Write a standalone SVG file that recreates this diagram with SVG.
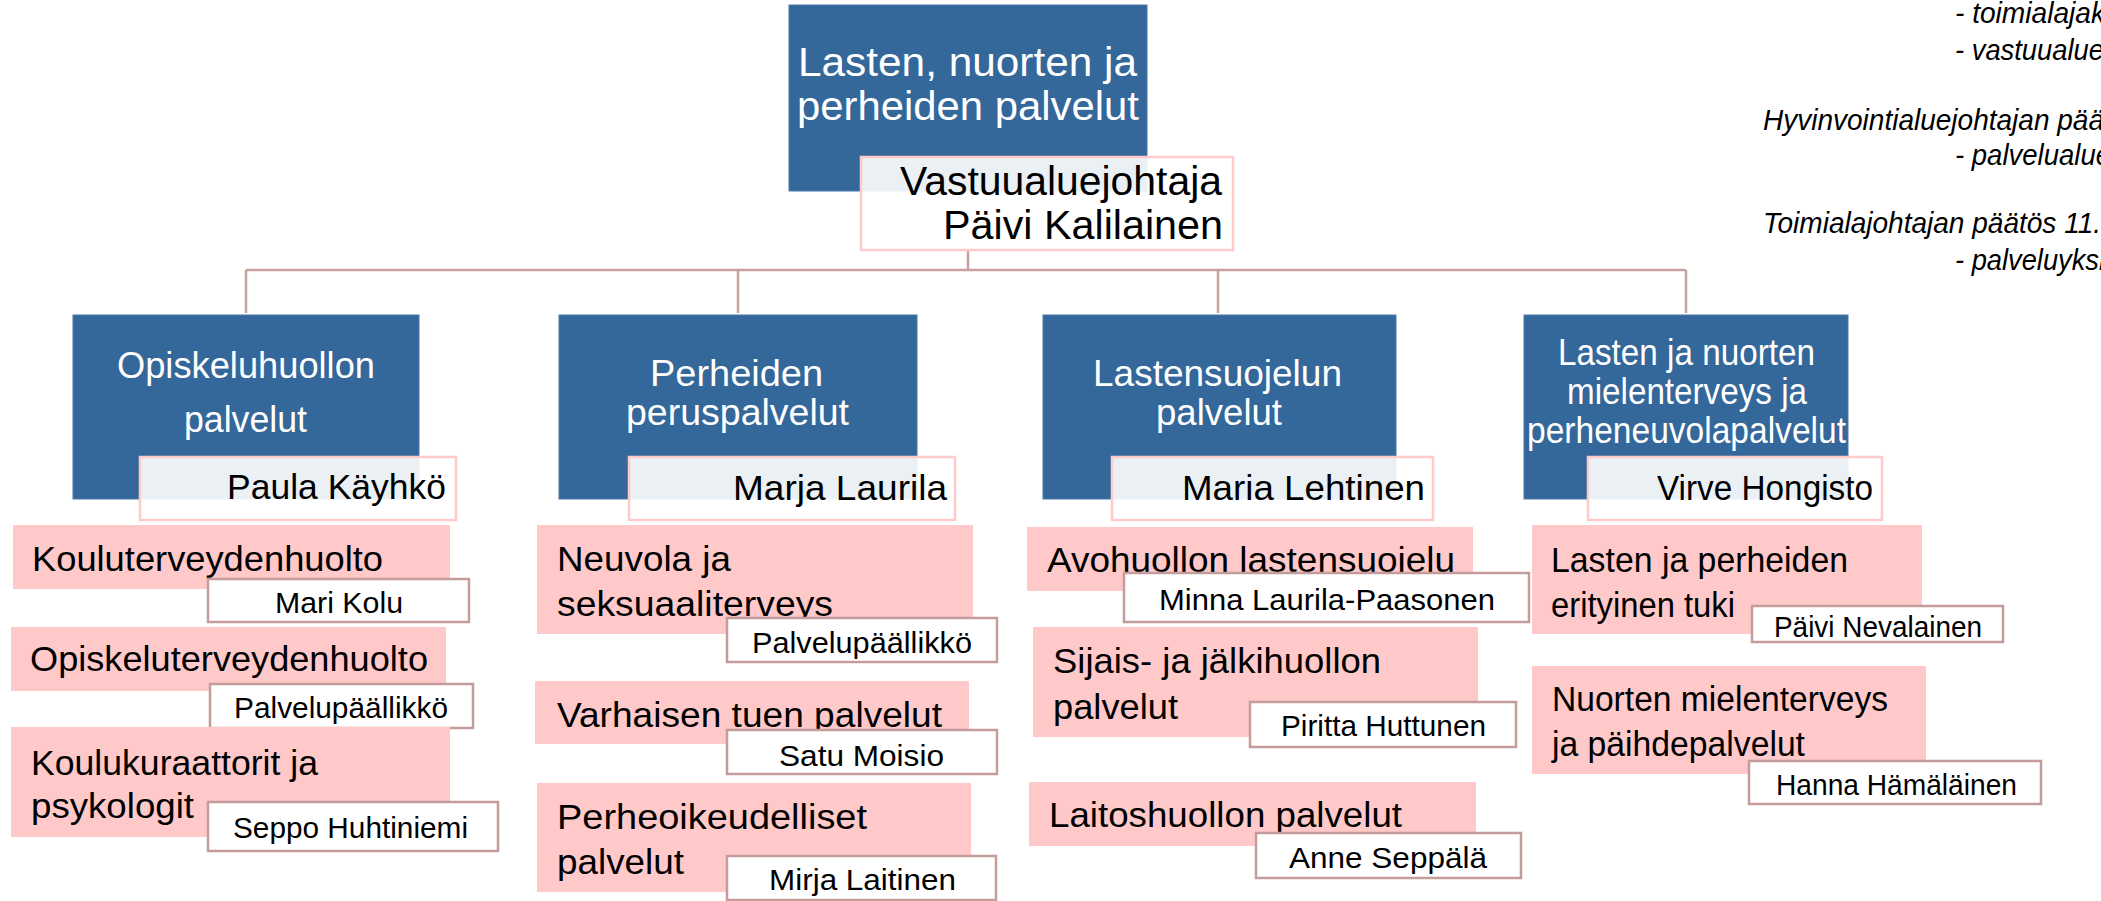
<svg xmlns="http://www.w3.org/2000/svg" width="2101" height="901" viewBox="0 0 2101 901">
<style>
.blue{fill:#34679A;stroke:#4a7aa8;stroke-width:1}
.mgr{fill:#ffffff;fill-opacity:0.9;stroke:#FFCACA;stroke-width:2.5}
.pink{fill:#FFC9C9}
.sub{fill:#ffffff;stroke:#C49C9C;stroke-width:2.5}
.conn{stroke:#C9A0A0;stroke-width:2.5;fill:none}
text{font-family:"Liberation Sans",Arial,sans-serif}
.wt{fill:#ffffff;font-size:36px}
.top{fill:#ffffff;font-size:41px}
.mt{fill:#000000;font-size:35px}
.pt{fill:#000000;font-size:35px}
.st{fill:#000000;font-size:30px}
.note{fill:#000000;font-size:30px;font-style:italic}
</style>
<rect width="2101" height="901" fill="#ffffff"/>
<g id="connectors">
<path class="conn" d="M968 250 V270 M246 270 H1686 M246 270 V313 M738 270 V313 M1218 270 V313 M1686 270 V313"/>
</g>
<g id="root">
<rect class="blue" x="789" y="5" width="358" height="186"/>
<text class="top" x="798" y="76" textLength="339" lengthAdjust="spacingAndGlyphs">Lasten, nuorten ja</text>
<text class="top" x="797" y="120" textLength="342" lengthAdjust="spacingAndGlyphs">perheiden palvelut</text>
<rect class="mgr" x="861" y="157" width="372" height="93"/>
<text class="mt" style="font-size:40px" x="900" y="195" textLength="322" lengthAdjust="spacingAndGlyphs">Vastuualuejohtaja</text>
<text class="mt" style="font-size:40px" x="943" y="239" textLength="280" lengthAdjust="spacingAndGlyphs">Päivi Kalilainen</text>
</g>
<g id="unit1">
<rect class="blue" x="73" y="315" width="346" height="184"/>
<text class="wt" x="117" y="378" textLength="258" lengthAdjust="spacingAndGlyphs">Opiskeluhuollon</text>
<text class="wt" x="184" y="432" textLength="123" lengthAdjust="spacingAndGlyphs">palvelut</text>
<rect class="mgr" x="140" y="457" width="316" height="63"/>
<text class="mt" x="227" y="499" textLength="219" lengthAdjust="spacingAndGlyphs">Paula Käyhkö</text>
</g>
<g id="unit2">
<rect class="blue" x="559" y="315" width="358" height="184"/>
<text class="wt" x="650" y="386" textLength="173" lengthAdjust="spacingAndGlyphs">Perheiden</text>
<text class="wt" x="626" y="425" textLength="223" lengthAdjust="spacingAndGlyphs">peruspalvelut</text>
<rect class="mgr" x="629" y="457" width="326" height="63"/>
<text class="mt" x="733" y="500" textLength="214" lengthAdjust="spacingAndGlyphs">Marja  Laurila</text>
</g>
<g id="unit3">
<rect class="blue" x="1043" y="315" width="353" height="184"/>
<text class="wt" x="1093" y="386" textLength="249" lengthAdjust="spacingAndGlyphs">Lastensuojelun</text>
<text class="wt" x="1156" y="425" textLength="126" lengthAdjust="spacingAndGlyphs">palvelut</text>
<rect class="mgr" x="1112" y="457" width="321" height="63"/>
<text class="mt" x="1182" y="500" textLength="243" lengthAdjust="spacingAndGlyphs">Maria Lehtinen</text>
</g>
<g id="unit4">
<rect class="blue" x="1524" y="315" width="324" height="184"/>
<text class="wt" x="1558" y="365" textLength="257" lengthAdjust="spacingAndGlyphs">Lasten ja nuorten</text>
<text class="wt" x="1567" y="404" textLength="240" lengthAdjust="spacingAndGlyphs">mielenterveys ja</text>
<text class="wt" x="1527" y="443" textLength="319" lengthAdjust="spacingAndGlyphs">perheneuvolapalvelut</text>
<rect class="mgr" x="1588" y="457" width="294" height="63"/>
<text class="mt" x="1657" y="500" textLength="216" lengthAdjust="spacingAndGlyphs">Virve Hongisto</text>
</g>
<g id="c1-kouluterveydenhuolto">
<rect class="pink" x="13" y="525" width="437" height="64"/>
<text class="pt" x="32" y="571" textLength="351" lengthAdjust="spacingAndGlyphs">Kouluterveydenhuolto</text>
<rect class="sub" x="208" y="579" width="261" height="43"/>
<text class="st" x="275" y="613" textLength="128" lengthAdjust="spacingAndGlyphs">Mari Kolu</text>
</g>
<g id="c1-opiskeluterveydenhuolto">
<rect class="pink" x="11" y="627" width="435" height="64"/>
<text class="pt" x="30" y="671" textLength="398" lengthAdjust="spacingAndGlyphs">Opiskeluterveydenhuolto</text>
<rect class="sub" x="210" y="684" width="263" height="44"/>
<text class="st" x="234" y="718" textLength="214" lengthAdjust="spacingAndGlyphs">Palvelupäällikkö</text>
</g>
<g id="c1-koulukuraattorit">
<rect class="pink" x="11" y="727" width="439" height="110"/>
<text class="pt" x="31" y="775" textLength="287" lengthAdjust="spacingAndGlyphs">Koulukuraattorit ja</text>
<text class="pt" x="31" y="818" textLength="163" lengthAdjust="spacingAndGlyphs">psykologit</text>
<rect class="sub" x="208" y="802" width="290" height="49"/>
<text class="st" x="233" y="838" textLength="235" lengthAdjust="spacingAndGlyphs">Seppo Huhtiniemi</text>
</g>
<g id="c2-neuvola">
<rect class="pink" x="537" y="525" width="436" height="109"/>
<text class="pt" x="557" y="571" textLength="174" lengthAdjust="spacingAndGlyphs">Neuvola ja</text>
<text class="pt" x="557" y="616" textLength="276" lengthAdjust="spacingAndGlyphs">seksuaaliterveys</text>
<rect class="sub" x="727" y="618" width="270" height="44"/>
<text class="st" x="752" y="653" textLength="220" lengthAdjust="spacingAndGlyphs">Palvelupäällikkö</text>
</g>
<g id="c2-varhaisen">
<rect class="pink" x="535" y="681" width="434" height="63"/>
<text class="pt" x="557" y="727" textLength="385" lengthAdjust="spacingAndGlyphs">Varhaisen tuen palvelut</text>
<rect class="sub" x="727" y="730" width="270" height="44"/>
<text class="st" x="779" y="766" textLength="165" lengthAdjust="spacingAndGlyphs">Satu Moisio</text>
</g>
<g id="c2-perheoikeudelliset">
<rect class="pink" x="537" y="783" width="434" height="109"/>
<text class="pt" x="557" y="829" textLength="310" lengthAdjust="spacingAndGlyphs">Perheoikeudelliset</text>
<text class="pt" x="557" y="874" textLength="127" lengthAdjust="spacingAndGlyphs">palvelut</text>
<rect class="sub" x="727" y="856" width="269" height="44"/>
<text class="st" x="769" y="890" textLength="187" lengthAdjust="spacingAndGlyphs">Mirja Laitinen</text>
</g>
<g id="c3-avohuollon">
<rect class="pink" x="1027" y="527" width="446" height="64"/>
<text class="pt" x="1047" y="572" textLength="408" lengthAdjust="spacingAndGlyphs">Avohuollon lastensuojelu</text>
<rect class="sub" x="1124" y="573" width="405" height="49"/>
<text class="st" x="1159" y="610" textLength="336" lengthAdjust="spacingAndGlyphs">Minna  Laurila-Paasonen</text>
</g>
<g id="c3-sijais">
<rect class="pink" x="1033" y="627" width="445" height="110"/>
<text class="pt" x="1053" y="673" textLength="328" lengthAdjust="spacingAndGlyphs">Sijais- ja jälkihuollon</text>
<text class="pt" x="1053" y="719" textLength="125" lengthAdjust="spacingAndGlyphs">palvelut</text>
<rect class="sub" x="1250" y="702" width="266" height="45"/>
<text class="st" x="1281" y="736" textLength="205" lengthAdjust="spacingAndGlyphs">Piritta Huttunen</text>
</g>
<g id="c3-laitoshuollon">
<rect class="pink" x="1029" y="782" width="447" height="64"/>
<text class="pt" x="1049" y="827" textLength="353" lengthAdjust="spacingAndGlyphs">Laitoshuollon palvelut</text>
<rect class="sub" x="1256" y="833" width="265" height="45"/>
<text class="st" x="1289" y="868" textLength="198" lengthAdjust="spacingAndGlyphs">Anne  Seppälä</text>
</g>
<g id="c4-erityinen">
<rect class="pink" x="1532" y="525" width="390" height="109"/>
<text class="pt" x="1551" y="572" textLength="297" lengthAdjust="spacingAndGlyphs">Lasten ja perheiden</text>
<text class="pt" x="1551" y="617" textLength="184" lengthAdjust="spacingAndGlyphs">erityinen tuki</text>
<rect class="sub" x="1752" y="606" width="251" height="36"/>
<text class="st" x="1774" y="637" textLength="208" lengthAdjust="spacingAndGlyphs">Päivi Nevalainen</text>
</g>
<g id="c4-nuorten">
<rect class="pink" x="1532" y="666" width="394" height="108"/>
<text class="pt" x="1552" y="711" textLength="336" lengthAdjust="spacingAndGlyphs">Nuorten mielenterveys</text>
<text class="pt" x="1552" y="756" textLength="253" lengthAdjust="spacingAndGlyphs">ja päihdepalvelut</text>
<rect class="sub" x="1749" y="761" width="292" height="43"/>
<text class="st" x="1776" y="795" textLength="241" lengthAdjust="spacingAndGlyphs">Hanna  Hämäläinen</text>
</g>
<g id="notes">
<text class="note" x="1955" y="23" textLength="150" lengthAdjust="spacingAndGlyphs">- toimialajak</text>
<text class="note" x="1955" y="60" textLength="149" lengthAdjust="spacingAndGlyphs">- vastuualue</text>
<text class="note" x="1763" y="130" textLength="341" lengthAdjust="spacingAndGlyphs">Hyvinvointialuejohtajan pää</text>
<text class="note" x="1955" y="165" textLength="156" lengthAdjust="spacingAndGlyphs">- palvelualue</text>
<text class="note" x="1763" y="233" textLength="338" lengthAdjust="spacingAndGlyphs">Toimialajohtajan päätös 11.</text>
<text class="note" x="1955" y="270" textLength="150" lengthAdjust="spacingAndGlyphs">- palveluyksi</text>
</g>
</svg>
